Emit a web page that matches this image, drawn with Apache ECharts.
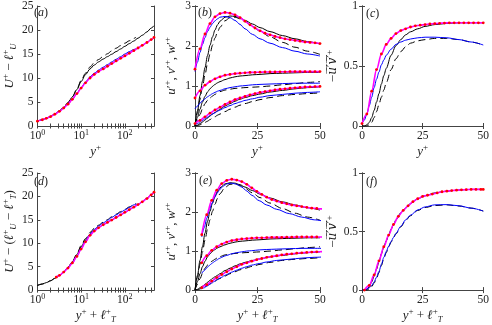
<!DOCTYPE html>
<html>
<head>
<meta charset="utf-8">
<script src="https://cdn.jsdelivr.net/npm/echarts@6/dist/echarts.min.js"></script>
<style>
  html, body { margin: 0; padding: 0; background: #fff; }
  #chart { width: 492px; height: 325px; }
</style>
</head>
<body>
<div id="chart"></div>
<script>
// shift of the rough-wall curves along y+ in panel (e)
const LT = 2.7

// (a) / (d): mean velocity, log grid in y+
const yLog = [1, 1.3, 1.6, 2, 2.5, 3.2, 4, 5, 6.3, 8, 10, 12.6, 16, 20, 25, 32, 40, 50, 63, 80, 100, 126, 160, 200, 250, 320, 400, 464]
const uBlack = [1.0, 1.3, 1.6, 2.0, 2.5, 3.15, 3.9, 4.85, 6.05, 7.6, 9.25, 10.7, 11.9, 12.7, 13.35, 13.95, 14.45, 14.95, 15.5, 16.05, 16.6, 17.15, 17.7, 18.3, 18.9, 19.6, 20.4, 20.9]
const uMagenta = [1.0, 1.3, 1.6, 1.95, 2.45, 3.05, 3.75, 4.55, 5.55, 6.75, 7.9, 9.0, 10.0, 10.75, 11.35, 11.9, 12.45, 13.0, 13.55, 14.1, 14.6, 15.15, 15.7, 16.25, 16.8, 17.4, 18.0, 18.45]
const yLogShort = [1, 1.3, 1.6, 2, 2.5, 3.2, 4, 5, 6.3, 8, 10, 12.6, 16, 20, 25, 32, 40, 50, 63, 80, 100, 126, 160, 180]
const uBlue = [1.0, 1.3, 1.6, 1.95, 2.45, 3.05, 3.75, 4.55, 5.55, 6.8, 8.0, 9.15, 10.25, 11.0, 11.65, 12.25, 12.8, 13.35, 13.9, 14.45, 15.0, 15.5, 15.95, 16.1]
const uBlackDash = [1.0, 1.3, 1.6, 2.0, 2.5, 3.15, 3.9, 4.85, 6.1, 7.7, 9.5, 11.0, 12.3, 13.2, 13.85, 14.5, 15.05, 15.65, 16.2, 16.75, 17.25, 17.75, 18.25, 18.5]
const yLogD = [2.7, 3.2, 4, 5, 6.3, 8, 10, 12.6, 16, 20, 25, 32, 40, 50, 63, 80, 100, 126, 160, 200, 250, 320, 400, 464]
const uMagentaD = [2.75, 3.15, 3.85, 4.7, 5.8, 7.2, 8.75, 10.3, 11.7, 12.6, 13.3, 13.95, 14.45, 14.95, 15.5, 16.05, 16.6, 17.15, 17.7, 18.25, 18.85, 19.55, 20.35, 20.9]
const yLogDBlue = [2.7, 3.2, 4, 5, 6.3, 8, 10, 12.6, 16, 20, 25, 32, 40, 50, 63, 80, 100, 126, 160, 185]
const uBlueD = [2.75, 3.15, 3.85, 4.7, 5.8, 7.25, 8.85, 10.45, 11.95, 12.95, 13.7, 14.35, 14.9, 15.5, 16.05, 16.6, 17.1, 17.65, 18.2, 18.4]

// (b) / (e): velocity fluctuations
const yMag = [0, 2, 4, 6, 8, 10, 12, 14, 16, 18, 20, 22, 24, 26, 28, 30, 32, 34, 36, 38, 40, 42, 44, 46, 48, 50]
const uMag = [1.42, 1.93, 2.3, 2.56, 2.73, 2.81, 2.84, 2.82, 2.78, 2.71, 2.62, 2.53, 2.45, 2.38, 2.32, 2.28, 2.24, 2.21, 2.18, 2.16, 2.14, 2.12, 2.1, 2.09, 2.08, 2.06]
const wMag = [0.7, 0.88, 1.02, 1.11, 1.18, 1.23, 1.27, 1.29, 1.31, 1.32, 1.33, 1.34, 1.34, 1.345, 1.35, 1.35, 1.35, 1.355, 1.355, 1.36, 1.36, 1.36, 1.36, 1.36, 1.36, 1.36]
const vMag = [0.06, 0.14, 0.23, 0.32, 0.4, 0.47, 0.54, 0.6, 0.66, 0.7, 0.74, 0.78, 0.81, 0.84, 0.86, 0.88, 0.9, 0.92, 0.93, 0.945, 0.955, 0.965, 0.975, 0.98, 0.985, 0.99]

const yLin = [0, 1, 2, 3, 4, 5, 6, 7, 8, 9, 10, 12, 14, 16, 18, 20, 23, 26, 30, 35, 40, 45, 50]
const uBlu = [1.36, 1.6, 1.84, 2.04, 2.21, 2.36, 2.47, 2.56, 2.63, 2.68, 2.72, 2.74, 2.71, 2.64, 2.54, 2.43, 2.29, 2.18, 2.07, 1.96, 1.87, 1.8, 1.75]
const wBlu = [0.43, 0.5, 0.57, 0.63, 0.68, 0.73, 0.77, 0.81, 0.84, 0.87, 0.89, 0.93, 0.96, 0.98, 1.0, 1.01, 1.03, 1.04, 1.05, 1.06, 1.07, 1.07, 1.07]
const vBlu = [0.03, 0.06, 0.1, 0.14, 0.18, 0.22, 0.26, 0.3, 0.33, 0.37, 0.4, 0.46, 0.51, 0.56, 0.6, 0.64, 0.68, 0.72, 0.76, 0.79, 0.82, 0.84, 0.855]
const uBlk = [0, 0.38, 0.76, 1.12, 1.46, 1.76, 2.02, 2.23, 2.4, 2.53, 2.62, 2.72, 2.75, 2.74, 2.7, 2.64, 2.55, 2.46, 2.36, 2.26, 2.18, 2.11, 2.05]
const wBlk = [0, 0.22, 0.42, 0.6, 0.74, 0.85, 0.93, 0.99, 1.04, 1.08, 1.11, 1.16, 1.2, 1.23, 1.25, 1.26, 1.28, 1.29, 1.31, 1.32, 1.33, 1.34, 1.34]
const vBlk = [0, 0.02, 0.06, 0.1, 0.15, 0.2, 0.25, 0.3, 0.34, 0.38, 0.42, 0.5, 0.56, 0.62, 0.67, 0.71, 0.76, 0.8, 0.85, 0.89, 0.93, 0.96, 0.98]
const uDsh = [0, 0.33, 0.66, 0.98, 1.28, 1.56, 1.8, 2.02, 2.2, 2.35, 2.47, 2.63, 2.71, 2.72, 2.68, 2.61, 2.49, 2.37, 2.23, 2.09, 1.97, 1.87, 1.79]
const wDsh = [0, 0.15, 0.29, 0.43, 0.56, 0.64, 0.7, 0.75, 0.79, 0.83, 0.86, 0.9, 0.92, 0.94, 0.95, 0.96, 0.97, 0.98, 1.0, 1.03, 1.06, 1.09, 1.11]
const vDsh = [0, 0.01, 0.03, 0.06, 0.09, 0.12, 0.16, 0.2, 0.23, 0.27, 0.3, 0.36, 0.42, 0.47, 0.52, 0.56, 0.61, 0.66, 0.71, 0.76, 0.79, 0.81, 0.83]

// (c): Reynolds shear stress against y+
const uvMag = [0.02, 0.1, 0.29, 0.47, 0.6, 0.68, 0.73, 0.77, 0.795, 0.81, 0.825, 0.835, 0.84, 0.845, 0.85, 0.853, 0.856, 0.858, 0.86, 0.86, 0.86, 0.86, 0.86, 0.86, 0.86, 0.86]
const uvBlu = [0.02, 0.05, 0.1, 0.17, 0.24, 0.32, 0.39, 0.45, 0.51, 0.55, 0.59, 0.64, 0.68, 0.7, 0.715, 0.725, 0.735, 0.74, 0.74, 0.735, 0.72, 0.7, 0.675]
const uvBlk = [0, 0, 0.01, 0.03, 0.07, 0.13, 0.2, 0.27, 0.35, 0.42, 0.48, 0.59, 0.67, 0.72, 0.76, 0.785, 0.81, 0.83, 0.845, 0.855, 0.86, 0.86, 0.86]
const uvDsh = [0, 0, 0, 0.01, 0.03, 0.07, 0.12, 0.18, 0.24, 0.3, 0.36, 0.47, 0.56, 0.62, 0.66, 0.69, 0.71, 0.72, 0.73, 0.73, 0.72, 0.7, 0.675]

// (f): Reynolds shear stress against y+ + lT+
const yMagF = [1, 3, 5, 7, 9, 11, 13, 15, 17, 19, 21, 23, 25, 27, 29, 31, 33, 35, 37, 39, 41, 43, 45, 47, 49, 50]
const uvMagF = [0.0, 0.04, 0.13, 0.25, 0.37, 0.47, 0.56, 0.63, 0.68, 0.72, 0.755, 0.78, 0.8, 0.81, 0.82, 0.83, 0.84, 0.845, 0.85, 0.853, 0.856, 0.858, 0.86, 0.86, 0.86, 0.86]
const yF = [0, 1, 2, 3, 4, 5, 6, 7, 8, 9, 10, 11, 12, 13, 14, 16, 18, 20, 23, 26, 30, 35, 40, 45, 50]
const uvBluF = [0, 0, 0.01, 0.02, 0.04, 0.07, 0.11, 0.16, 0.22, 0.28, 0.33, 0.375, 0.415, 0.45, 0.485, 0.545, 0.6, 0.64, 0.685, 0.71, 0.728, 0.73, 0.72, 0.7, 0.675]
const uvBlkF = [0, 0, 0.005, 0.03, 0.07, 0.12, 0.18, 0.24, 0.31, 0.37, 0.42, 0.47, 0.52, 0.56, 0.6, 0.66, 0.7, 0.74, 0.78, 0.805, 0.83, 0.845, 0.855, 0.86, 0.86]
const uvDshF = [0, 0, 0, 0.01, 0.03, 0.06, 0.1, 0.15, 0.21, 0.27, 0.32, 0.37, 0.41, 0.45, 0.48, 0.54, 0.595, 0.635, 0.68, 0.705, 0.722, 0.728, 0.718, 0.7, 0.675]

// tick values
const logLabels = [1, 10, 100]
const logTicks = [1, 2, 3, 4, 5, 6, 7, 8, 9, 10, 20, 30, 40, 50, 60, 70, 80, 90, 100, 200, 300, 400]

const SERIF = '"Liberation Serif", "DejaVu Serif", serif'
const AXIS = '#444'
const TXT = '#222'

const rich = {
  i: { fontFamily: SERIF, fontStyle: 'italic', fontSize: 13, lineHeight: 17, color: TXT },
  r: { fontFamily: SERIF, fontSize: 13, lineHeight: 17, color: TXT },
  sup: { fontFamily: SERIF, fontSize: 9, lineHeight: 9, verticalAlign: 'top', color: TXT },
  sub: { fontFamily: SERIF, fontStyle: 'italic', fontSize: 8.5, lineHeight: 7, verticalAlign: 'bottom', color: TXT },
  ov: { fontFamily: '"DejaVu Serif", serif', fontStyle: 'italic', fontSize: 12, lineHeight: 17, color: TXT },
  n: { fontFamily: SERIF, fontSize: 11.5, lineHeight: 14, color: TXT },
  e: { fontFamily: SERIF, fontSize: 8, lineHeight: 8, verticalAlign: 'top', color: TXT }
}

const grids = [
  { left: 30, top: 5, width: 124, height: 121 },
  { left: 195, top: 5, width: 125, height: 121 },
  { left: 362, top: 5, width: 124, height: 121 },
  { left: 30, top: 173, width: 124, height: 121 },
  { left: 195, top: 173, width: 125, height: 121 },
  { left: 362, top: 173, width: 124, height: 121 }
]

const xNameTop = '{i|y}{sup|+}'
const xNameBot = '{i|y}{sup|+}{r| + }{i|ℓ}{sup|+}{sub|T}'
const uvwName = "{i|u}{r|′}{sup|+}{r|, }{i|v}{r|′}{sup|+}{r|, }{i|w}{r|′}{sup|+}"
const uvName = '{r|−}{ov|u\u0305\u2032\u0305v\u0305\u2032\u0305}{sup|+}'
const panels = [
  { log: true, ymax: 25, yint: 5, xname: xNameTop, xgap: 14, yname: '{i|U}{sup|+}{r| − }{i|ℓ}{sup|+}{sub|U}', ygap: 9 },
  { ymax: 3, yint: 1, xname: xNameTop, xgap: 14, yname: uvwName, ygap: 15 },
  { ymax: 1, yint: 0.5, xname: xNameTop, xgap: 14, yname: uvName, ygap: 20 },
  { log: true, ymax: 25, yint: 5, xname: xNameBot, xgap: 10, yname: '{i|U}{sup|+}{r| − (}{i|ℓ}{sup|+}{sub|U}{r| − }{i|ℓ}{sup|+}{sub|T}{r|)}', ygap: 10 },
  { ymax: 3, yint: 1, xname: xNameBot, xgap: 10, yname: uvwName, ygap: 15 },
  { ymax: 1, yint: 0.5, xname: xNameBot, xgap: 10, yname: uvName, ygap: 20 }
]

const xAxes = []
const yAxes = []
panels.forEach((p, i) => {
  const xBase = p.log
    ? { type: 'log', min: 1, max: 464, logBase: 10 }
    : { type: 'value', min: 0, max: 50, interval: 25 }
  const tick = p.log
    ? { inside: true, length: 2.5, customValues: logTicks, lineStyle: { color: AXIS } }
    : { inside: true, length: 3, lineStyle: { color: AXIS } }
  const label = p.log
    ? { customValues: logLabels, margin: 3, formatter: v => '{n|10}{e|' + Math.round(Math.log10(v)) + '}', rich }
    : { margin: 4, fontFamily: SERIF, fontSize: 11.5, color: TXT }
  xAxes.push(Object.assign({
    gridIndex: i, position: 'bottom',
    axisLine: { lineStyle: { color: AXIS } }, axisTick: tick, axisLabel: label,
    splitLine: { show: false },
    name: p.xname, nameLocation: 'middle', nameGap: p.xgap, nameTextStyle: { rich }
  }, xBase))
  xAxes.push(Object.assign({
    gridIndex: i, position: 'top',
    axisLine: { lineStyle: { color: AXIS } }, axisTick: tick, axisLabel: { show: false },
    splitLine: { show: false }
  }, xBase))
  const yBase = { type: 'value', min: 0, max: p.ymax, interval: p.yint }
  yAxes.push(Object.assign({
    gridIndex: i, position: 'left',
    axisLine: { show: true, lineStyle: { color: AXIS } },
    axisTick: { show: true, inside: true, length: 3, lineStyle: { color: AXIS } },
    axisLabel: { margin: 4, fontFamily: SERIF, fontSize: 11.5, color: TXT },
    splitLine: { show: false },
    name: p.yname, nameLocation: 'middle', nameRotate: 90, nameGap: p.ygap, nameTextStyle: { rich }
  }, yBase))
  yAxes.push(Object.assign({
    gridIndex: i, position: 'right',
    axisLine: { show: true, lineStyle: { color: AXIS } },
    axisTick: { show: true, inside: true, length: 3, lineStyle: { color: AXIS } },
    axisLabel: { show: false },
    splitLine: { show: false }
  }, yBase))
})

const styles = {
  blk: { color: '#000', width: 1 },
  dash: { color: '#000', width: 1, type: [7, 4] },
  blue: { color: '#0000ff', width: 1 },
  mag: { color: '#ff00ff', width: 1.6 }
}

const series = []
function add(g, xs, ys, kind, dx) {
  const shift = dx || 0
  const s = {
    type: 'line',
    xAxisIndex: 2 * g,
    yAxisIndex: 2 * g,
    data: xs.map((x, k) => [x + shift, ys[k]]),
    smooth: 0.3,
    smoothMonotone: 'x',
    lineStyle: styles[kind],
    symbol: 'none',
    silent: true,
    z: kind === 'mag' ? 4 : (kind === 'blue' ? 3 : 2)
  }
  if (kind === 'mag') {
    s.symbol = 'circle'
    s.symbolSize = 2.8
    s.itemStyle = { color: '#ff0000' }
  }
  series.push(s)
}

// (a)
add(0, yLogShort, uBlackDash, 'dash')
add(0, yLog, uBlack, 'blk')
add(0, yLogShort, uBlue, 'blue')
add(0, yLog, uMagenta, 'mag')
// (d)
add(3, yLogShort, uBlackDash, 'dash')
add(3, yLog, uBlack, 'blk')
add(3, yLogDBlue, uBlueD, 'blue')
add(3, yLogD, uMagentaD, 'mag')

// (b) and (e)
;[[1, 0], [4, LT]].forEach(([g, dx]) => {
  [[uDsh, uBlk, uBlu, uMag], [wDsh, wBlk, wBlu, wMag], [vDsh, vBlk, vBlu, vMag]].forEach(c => {
    add(g, yLin, c[0], 'dash')
    add(g, yLin, c[1], 'blk')
    add(g, yLin, c[2], 'blue', dx)
    add(g, yMag, c[3], 'mag', dx)
  })
})
// (c)
add(2, yLin, uvDsh, 'dash')
add(2, yLin, uvBlk, 'blk')
add(2, yLin, uvBlu, 'blue')
add(2, yMag, uvMag, 'mag')
// (f)
add(5, yF, uvDshF, 'dash')
add(5, yF, uvBlkF, 'blk')
add(5, yF, uvBluF, 'blue')
add(5, yMagF, uvMagF, 'mag')

const tags = [['a', 34, 7], ['b', 198, 7], ['c', 366, 8], ['d', 34, 176], ['e', 199, 175], ['f', 366, 176]]
const graphic = tags.map(([t, x, y]) => ({
  type: 'text', left: x, top: y, silent: true,
  style: { text: '{r|(}{i|' + t + '}{r|)}', rich: {
    r: { fontFamily: SERIF, fontSize: 12, fill: TXT },
    i: { fontFamily: SERIF, fontStyle: 'italic', fontSize: 12, fill: TXT }
  } }
}))

const chart = echarts.init(document.getElementById('chart'), null, { renderer: 'canvas' })
chart.setOption({
  animation: false,
  backgroundColor: '#fff',
  grid: grids,
  xAxis: xAxes,
  yAxis: yAxes,
  series,
  graphic
})
</script>
</body>
</html>
